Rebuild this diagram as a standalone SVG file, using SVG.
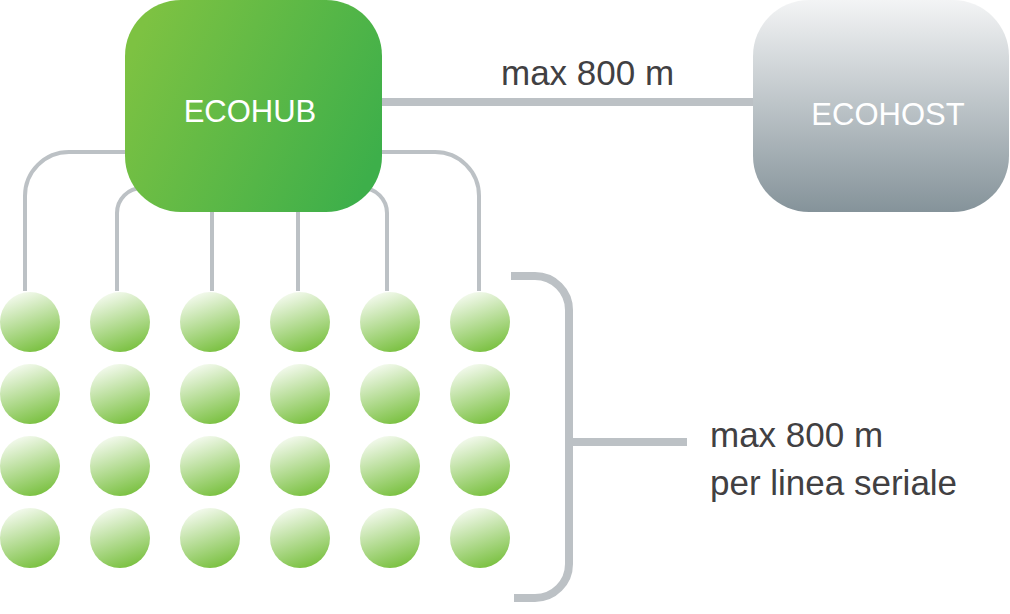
<svg xmlns="http://www.w3.org/2000/svg" width="1010" height="614" viewBox="0 0 1010 614">
<style>
.wire{fill:none;stroke:#bcc1c5;stroke-width:4}
.thick{fill:none;stroke:#bcc1c5;stroke-width:8}
.node{fill:url(#gNode)}
.box-label{font-family:"Liberation Sans",Arial,sans-serif;font-size:31px;fill:#ffffff;text-anchor:middle}
.label{font-family:"Liberation Sans",Arial,sans-serif;font-size:35px;fill:#414042}
</style>
<defs>
<linearGradient id="gHub" x1="0" y1="0.3" x2="1" y2="0.7">
<stop offset="0" stop-color="#7dc242"/>
<stop offset="1" stop-color="#3daf4a"/>
</linearGradient>
<linearGradient id="gHost" x1="0" y1="0" x2="0" y2="1">
<stop offset="0" stop-color="#f3f4f5"/>
<stop offset="1" stop-color="#85939a"/>
</linearGradient>
<linearGradient id="gNode" x1="0.25" y1="0" x2="0.6" y2="1">
<stop offset="0" stop-color="#f8fcf4"/>
<stop offset="1" stop-color="#7bc142"/>
</linearGradient>
</defs>

<g id="connectors">
<path class="thick" d="M380,102 H756"/>
<path class="wire" d="M25,291 V196 A44,44 0 0 1 69,152 H140"/>
<path class="wire" d="M117,291 V213 A25,25 0 0 1 142,188 H160"/>
<path class="wire" d="M212,291 V200"/>
<path class="wire" d="M298,291 V200"/>
<path class="wire" d="M387,291 V213 A25,25 0 0 0 362,188 H340"/>
<path class="wire" d="M479,291 V196 A44,44 0 0 0 435,152 H370"/>
<path class="thick" d="M511,276 H535 A34,34 0 0 1 569,310 V564 A34,34 0 0 1 535,598 H514"/>
<path class="thick" d="M569,442 H687"/>
</g>

<g id="ecohub">
<rect x="125" y="0" width="257" height="212" rx="56" ry="56" fill="url(#gHub)"/>
<text class="box-label" x="250" y="122">ECOHUB</text>
</g>

<g id="ecohost">
<rect x="753" y="0" width="256" height="212" rx="56" ry="56" fill="url(#gHost)"/>
<text class="box-label" x="888" y="125">ECOHOST</text>
</g>

<g id="label-hub-host">
<text class="label" x="501" y="85">max 800 m</text>
</g>

<g id="label-serial">
<text class="label" x="710" y="447">max 800 m</text>
<text class="label" x="710" y="495">per linea seriale</text>
</g>

<g id="nodes">
<g id="row1">
<circle class="node" cx="30" cy="322" r="30"/><circle class="node" cx="120" cy="322" r="30"/><circle class="node" cx="210" cy="322" r="30"/><circle class="node" cx="300" cy="322" r="30"/><circle class="node" cx="390" cy="322" r="30"/><circle class="node" cx="480" cy="322" r="30"/>
</g>
<g id="row2">
<circle class="node" cx="30" cy="394" r="30"/><circle class="node" cx="120" cy="394" r="30"/><circle class="node" cx="210" cy="394" r="30"/><circle class="node" cx="300" cy="394" r="30"/><circle class="node" cx="390" cy="394" r="30"/><circle class="node" cx="480" cy="394" r="30"/>
</g>
<g id="row3">
<circle class="node" cx="30" cy="466" r="30"/><circle class="node" cx="120" cy="466" r="30"/><circle class="node" cx="210" cy="466" r="30"/><circle class="node" cx="300" cy="466" r="30"/><circle class="node" cx="390" cy="466" r="30"/><circle class="node" cx="480" cy="466" r="30"/>
</g>
<g id="row4">
<circle class="node" cx="30" cy="538" r="30"/><circle class="node" cx="120" cy="538" r="30"/><circle class="node" cx="210" cy="538" r="30"/><circle class="node" cx="300" cy="538" r="30"/><circle class="node" cx="390" cy="538" r="30"/><circle class="node" cx="480" cy="538" r="30"/>
</g>
</g>
</svg>
